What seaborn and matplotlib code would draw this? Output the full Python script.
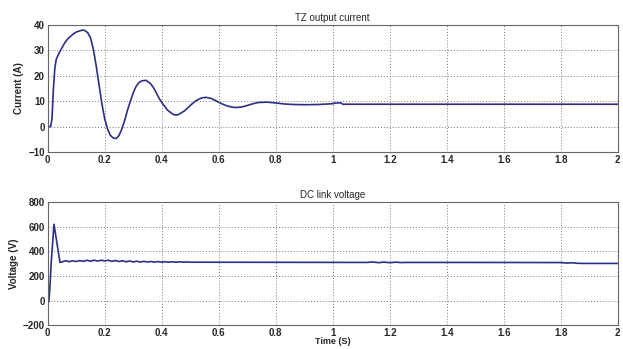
import numpy as np
import pandas as pd
import matplotlib
matplotlib.use("Agg")
import matplotlib.pyplot as plt
import seaborn as sns

# ---- TZ output current ----
cur_t = [0, 0.01, 0.015, 0.02, 0.025, 0.03, 0.04, 0.05, 0.06, 0.07, 0.08, 0.09,
         0.10, 0.11, 0.12, 0.125, 0.13, 0.14, 0.15, 0.16, 0.17, 0.18, 0.19, 0.20,
         0.21, 0.22, 0.23, 0.24, 0.25, 0.26, 0.27, 0.28, 0.29, 0.30, 0.31, 0.32,
         0.33, 0.345, 0.36, 0.37, 0.38, 0.39, 0.40, 0.42, 0.44, 0.45, 0.46, 0.48,
         0.50, 0.52, 0.54, 0.555, 0.57, 0.59, 0.61, 0.63, 0.65, 0.66, 0.68, 0.70,
         0.72, 0.74, 0.77, 0.80, 0.83, 0.86, 0.90, 0.95, 1.00, 1.01, 1.03, 1.035,
         1.2, 1.5, 2.0]
cur_a = [0, 0, 3, 15, 23, 26.5, 29, 31, 33, 34.5, 35.5, 36.5,
         37.2, 37.6, 37.9, 38, 37.8, 37, 35, 30.5, 24, 16.5, 9, 3,
         -1, -3.5, -4.5, -4.7, -3.5, -1, 2.5, 6.5, 10, 13.3, 15.8, 17.3,
         18, 18.2, 17, 15.5, 13.5, 11.3, 9.5, 6.5, 4.8, 4.5, 4.8, 6.2,
         8.3, 10.2, 11.3, 11.5, 11.2, 10.2, 9, 8.1, 7.6, 7.5, 7.7, 8.3,
         9, 9.5, 9.6, 9.3, 8.9, 8.7, 8.6, 8.7, 9.0, 9.3, 9.3, 8.8,
         8.8, 8.8, 8.8]

# ---- DC link voltage ----
volt_t = [0, 0.004, 0.008, 0.012, 0.022, 0.043, 0.05, 0.0625, 0.075, 0.0875,
          0.1, 0.1125, 0.125, 0.1375, 0.15, 0.1625, 0.175, 0.1875, 0.2, 0.2125,
          0.225, 0.2375, 0.25, 0.2625, 0.275, 0.2875, 0.3, 0.3125, 0.325, 0.3375,
          0.35, 0.3625, 0.375, 0.3875, 0.4, 0.4125, 0.425, 0.4375, 0.45, 0.4625,
          0.475, 0.4875, 0.5, 0.8, 1.12, 1.14, 1.16, 1.18, 1.2, 1.22, 1.24, 1.26,
          1.5, 1.8, 1.82, 1.84, 1.86, 1.88, 2.0]
volt_v = [-15, -10, 120, 300, 620, 310, 314, 324, 316, 323,
          318, 325, 319, 327, 320, 328, 321, 328, 322, 328,
          319, 326, 317, 324, 315, 322, 314, 320, 313, 319,
          313, 318, 312, 317, 312, 316, 312, 315, 312, 315,
          312, 314, 312, 311, 310, 314, 308, 313, 308, 312, 309, 310,
          310, 309, 305, 307, 303, 302, 302]

line_color = "#2e2e86"

sns.set_style("white")
plt.rcParams["font.family"] = ["Liberation Sans", "DejaVu Sans"]

fig = plt.figure(figsize=(6.23, 3.49), dpi=100)
ax1 = fig.add_axes([0.0766, 0.5645, 0.915, 0.364])
ax2 = fig.add_axes([0.0766, 0.068, 0.915, 0.353])

df_cur = pd.DataFrame({"t": cur_t, "i": cur_a})
df_volt = pd.DataFrame({"t": volt_t, "v": volt_v})

sns.lineplot(data=df_cur, x="t", y="i", ax=ax1, color=line_color, linewidth=1.2)
sns.lineplot(data=df_volt, x="t", y="v", ax=ax2, color=line_color, linewidth=1.2)

xticks = np.arange(0, 2.01, 0.2)
xlabels = ["0", "0.2", "0.4", "0.6", "0.8", "1", "1.2", "1.4", "1.6", "1.8", "2"]

for ax in (ax1, ax2):
    ax.set_xlim(0, 2)
    ax.set_xticks(xticks)
    ax.set_xticklabels(xlabels)
    ax.grid(True, linestyle=(0, (1, 2)), color="#777777", linewidth=0.7)
    ax.tick_params(direction="in", length=3, labelsize=7, pad=2, width=0.6)
    for s in ax.spines.values():
        s.set_color("#666666")
        s.set_linewidth(0.8)
    ax.set_xlabel("")

ax1.set_ylim(-10, 40)
ax1.set_yticks([-10, 0, 10, 20, 30, 40])
ax1.set_ylabel("Current (A)", fontsize=7, fontweight="bold", labelpad=3)
ax1.set_title("TZ output current", fontsize=7, pad=3)

ax2.set_ylim(-200, 800)
ax2.set_yticks([-200, 0, 200, 400, 600, 800])
ax2.set_ylabel("Voltage (V)", fontsize=7, fontweight="bold", labelpad=3)
ax2.set_title("DC link voltage", fontsize=7, pad=3)
ax2.set_xlabel("Time (S)", fontsize=6.5, fontweight="bold", labelpad=-1)

for lbl in ax1.get_xticklabels() + ax1.get_yticklabels() + ax2.get_xticklabels() + ax2.get_yticklabels():
    lbl.set_fontweight("bold")

fig.savefig("out.png", dpi=100)
